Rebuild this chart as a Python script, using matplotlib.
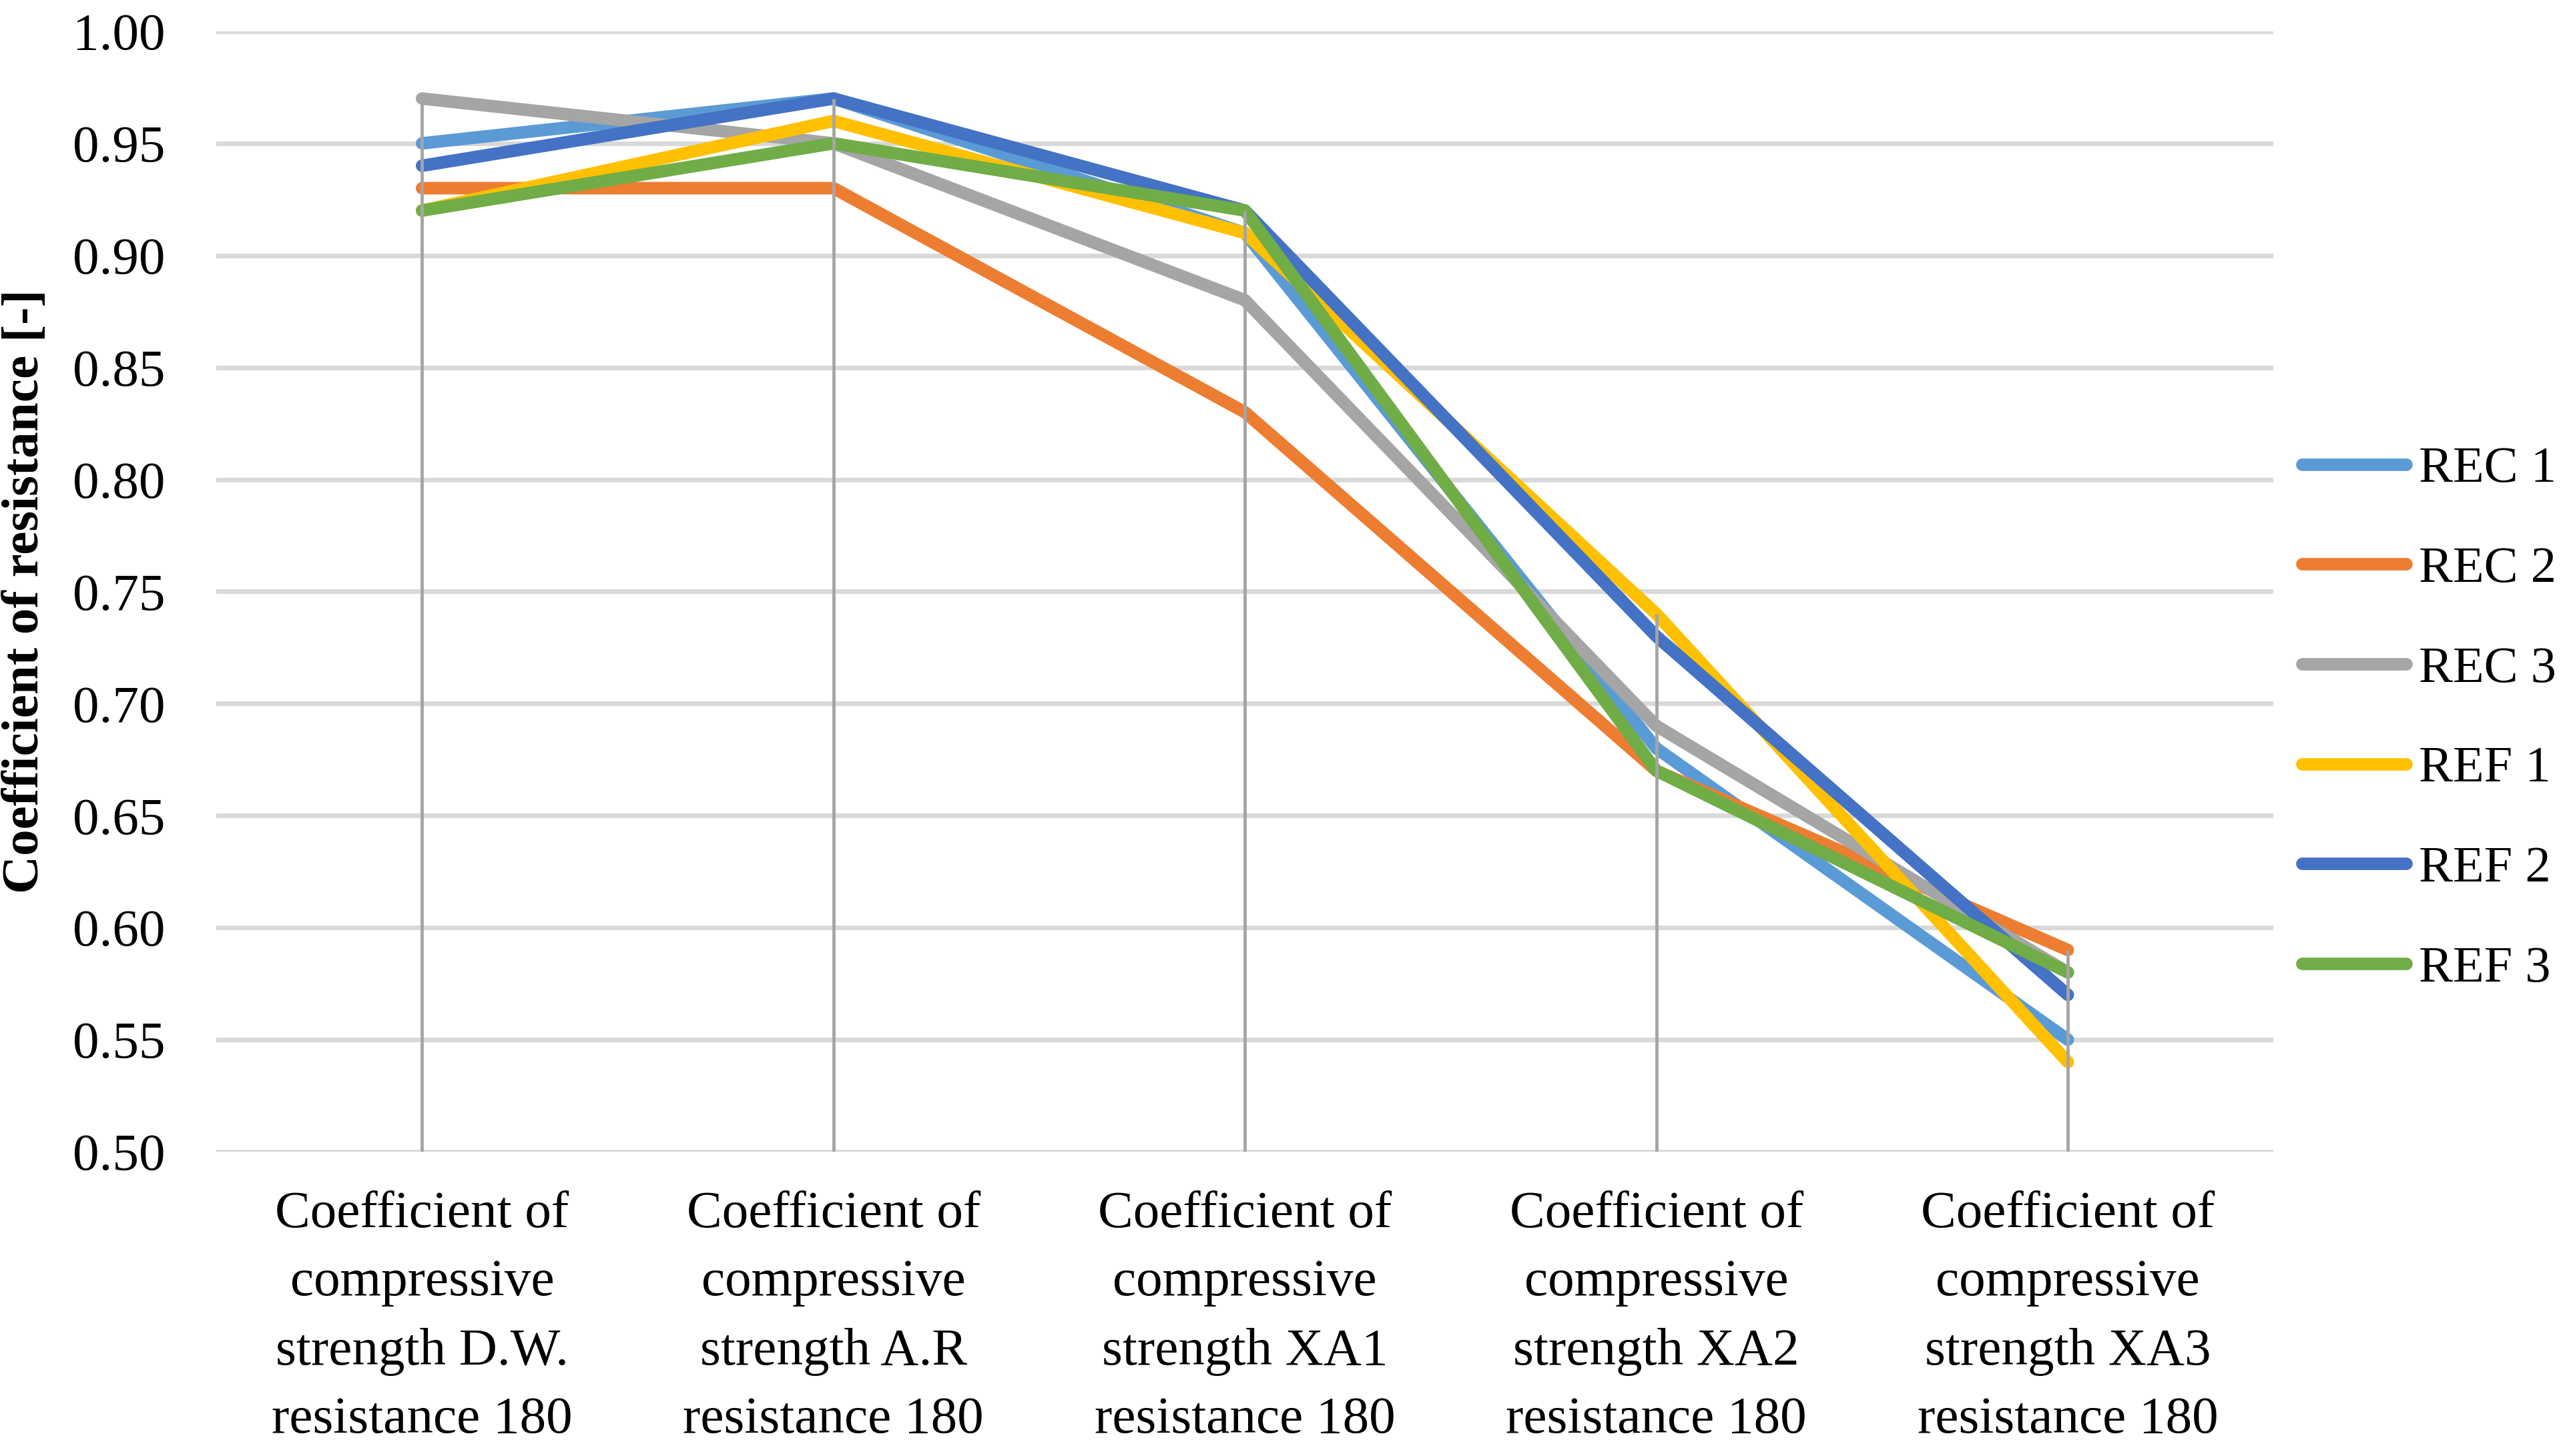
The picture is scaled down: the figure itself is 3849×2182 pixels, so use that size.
import matplotlib
matplotlib.use("Agg")
import matplotlib.pyplot as plt
import numpy as np

categories = [
    "Coefficient of\ncompressive\nstrength D.W.\nresistance 180",
    "Coefficient of\ncompressive\nstrength A.R\nresistance 180",
    "Coefficient of\ncompressive\nstrength XA1\nresistance 180",
    "Coefficient of\ncompressive\nstrength XA2\nresistance 180",
    "Coefficient of\ncompressive\nstrength XA3\nresistance 180",
]
rec1 = [0.95, 0.97, 0.91, 0.68, 0.55]
rec2 = [0.93, 0.93, 0.83, 0.67, 0.59]
rec3 = [0.97, 0.95, 0.88, 0.69, 0.58]
ref1 = [0.92, 0.96, 0.91, 0.74, 0.54]
ref2 = [0.94, 0.97, 0.92, 0.73, 0.57]
ref3 = [0.92, 0.95, 0.92, 0.67, 0.58]
series_names = ["REC 1", "REC 2", "REC 3", "REF 1", "REF 2", "REF 3"]
series_values = [rec1, rec2, rec3, ref1, ref2, ref3]
colors = ["#5B9BD5", "#ED7D31", "#A5A5A5", "#FFC000", "#4472C4", "#70AD47"]
yticks = [0.50, 0.55, 0.60, 0.65, 0.70, 0.75, 0.80, 0.85, 0.90, 0.95, 1.00]

plt.rcParams['font.family'] = ['Liberation Serif', 'DejaVu Serif']

fig = plt.figure(figsize=(38.49, 21.82), dpi=100)
ax = fig.add_axes([0.0842, 0.209, 0.885 - 0.0842, 0.9785 - 0.209])

x = np.arange(len(categories))
for name, vals, c in zip(series_names, series_values, colors):
    ax.plot(x, vals, color=c, lw=13.5, label=name, solid_capstyle='round',
            solid_joinstyle='round', zorder=3)

tops = np.max(np.array(series_values), axis=0)
ax.vlines(x, 0.5, tops, color="#A5A5A5", lw=3.5, zorder=4)

ax.set_xlim(-0.5, len(categories) - 0.5)
ax.set_ylim(0.5, 1.0)
ax.set_yticks(yticks)
ax.set_yticklabels([f"{t:.2f}" for t in yticks])
ax.set_xticks(x)
ax.set_xticklabels(categories, linespacing=1.57)
ax.yaxis.grid(True, color="#D9D9D9", lw=5, zorder=0)
ax.set_axisbelow(True)
for s in ax.spines.values():
    s.set_visible(False)
ax.tick_params(axis='y', length=0, pad=55, labelsize=57)
ax.tick_params(axis='x', length=0, pad=42, labelsize=57)
ax.set_ylabel("Coefficient of resistance [-]", fontsize=57, fontweight='bold')
ax.yaxis.set_label_coords(-0.081, 0.5)

handles, labels = ax.get_legend_handles_labels()
leg = fig.legend(handles, labels, loc='center left', bbox_to_anchor=(0.896, 0.506),
                 frameon=False, fontsize=55, handlelength=2.05, handletextpad=0.25,
                 labelspacing=1.05, borderpad=0, borderaxespad=0)

fig.savefig("out.png", dpi=100)
